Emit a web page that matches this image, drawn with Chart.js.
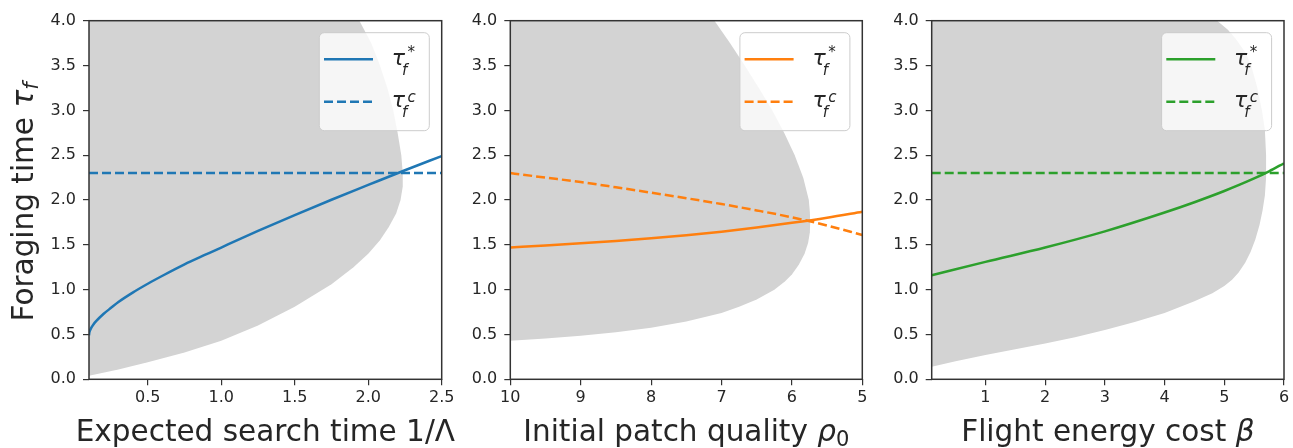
<!DOCTYPE html>
<html>
<head>
<meta charset="utf-8">
<script src="https://cdn.jsdelivr.net/npm/chart.js@4/dist/chart.umd.min.js"></script>
<style>
html,body{margin:0;padding:0;background:#fff;}
#wrap{position:relative;width:1293px;height:448px;overflow:hidden;background:#fff;}
canvas{position:absolute;top:0;}
</style>
</head>
<body>
<div id="wrap">
<canvas id="c1" style="left:0px" width="475" height="448"></canvas>
<canvas id="c2" style="left:450px" width="420" height="448"></canvas>
<canvas id="c3" style="left:870px" width="423" height="448"></canvas>
</div>
<script>
// ---------- shared ticks ----------
const yTickValues = [0, 0.5, 1, 1.5, 2, 2.5, 3, 3.5, 4];
const yTickLabels = ['0.0', '0.5', '1.0', '1.5', '2.0', '2.5', '3.0', '3.5', '4.0'];
const seriesNames = ['τf*', 'τfc'];

// ---------- panel 1: expected search time ----------
const p1TickValues = [0.5, 1.0, 1.5, 2.0, 2.5];
const p1TickLabels = ['0.5', '1.0', '1.5', '2.0', '2.5'];
const p1OptX = [0.1, 0.102, 0.106, 0.115, 0.13, 0.15, 0.2, 0.25, 0.3, 0.4, 0.5, 0.6, 0.75, 0.9, 1.0, 1.25, 1.5, 1.75, 2.0, 2.25, 2.5];
const p1OptY = [0.49, 0.519, 0.541, 0.573, 0.611, 0.651, 0.731, 0.797, 0.862, 0.970, 1.066, 1.155, 1.282, 1.395, 1.47, 1.655, 1.832, 2.003, 2.168, 2.332, 2.49];
const p1CritX = [0.1, 2.5];
const p1CritY = [2.3, 2.3];
const p1RegionX = [0.1, 0.3, 0.5, 0.75, 1.0, 1.25, 1.5, 1.75, 1.9, 2.0, 2.08, 2.14, 2.19, 2.22, 2.235, 2.235, 2.225, 2.20, 2.17, 2.13, 2.08, 2.02, 1.94, 0.1];
const p1RegionY = [0.04, 0.11, 0.19, 0.30, 0.43, 0.60, 0.81, 1.06, 1.25, 1.40, 1.55, 1.70, 1.85, 2.00, 2.15, 2.30, 2.50, 2.75, 3.00, 3.25, 3.50, 3.75, 4.00, 4.00];

// ---------- panel 2: initial patch quality ----------
const p2TickValues = [10, 9, 8, 7, 6, 5];
const p2TickLabels = ['10', '9', '8', '7', '6', '5'];
const p2OptX = [10, 9.5, 9, 8.5, 8, 7.5, 7, 6.5, 6, 5.5, 5];
const p2OptY = [1.47, 1.493, 1.517, 1.543, 1.572, 1.607, 1.647, 1.693, 1.745, 1.803, 1.87];
const p2CritX = [10, 9.5, 9, 8.5, 8, 7.5, 7, 6.5, 6, 5.5, 5];
const p2CritY = [2.30, 2.25, 2.20, 2.142, 2.082, 2.02, 1.955, 1.884, 1.807, 1.715, 1.61];
const p2RegionX = [10, 9.5, 9, 8.5, 8, 7.5, 7, 6.75, 6.5, 6.25, 6.1, 6.0, 5.9, 5.82, 5.77, 5.745, 5.74, 5.745, 5.76, 5.84, 5.96, 6.11, 6.28, 6.47, 6.67, 6.88, 7.1, 10];
const p2RegionY = [0.43, 0.455, 0.485, 0.525, 0.575, 0.645, 0.74, 0.81, 0.89, 1.00, 1.09, 1.17, 1.28, 1.40, 1.52, 1.64, 1.75, 1.87, 2.00, 2.25, 2.50, 2.75, 3.00, 3.25, 3.50, 3.75, 4.00, 4.00];

// ---------- panel 3: flight energy cost ----------
const p3TickValues = [1, 2, 3, 4, 5, 6];
const p3TickLabels = ['1', '2', '3', '4', '5', '6'];
const p3OptX = [0.1, 1, 2, 3, 4, 4.5, 5, 5.5, 5.75, 6];
const p3OptY = [1.16, 1.31, 1.47, 1.65, 1.86, 1.975, 2.10, 2.24, 2.32, 2.41];
const p3CritX = [0.1, 6];
const p3CritY = [2.3, 2.3];
const p3RegionX = [0.1, 0.5, 1, 1.5, 2, 2.5, 3, 3.5, 4, 4.5, 4.8, 5.0, 5.13, 5.24, 5.35, 5.44, 5.52, 5.59, 5.64, 5.68, 5.70, 5.70, 5.68, 5.63, 5.55, 5.45, 5.36, 5.19, 5.06, 4.88, 0.1];
const p3RegionY = [0.14, 0.20, 0.27, 0.335, 0.40, 0.47, 0.55, 0.64, 0.74, 0.87, 0.96, 1.04, 1.11, 1.19, 1.30, 1.42, 1.56, 1.72, 1.88, 2.05, 2.25, 2.50, 2.78, 3.00, 3.26, 3.50, 3.64, 3.80, 3.90, 4.00, 4.00];

// ---------- styling ----------
const FONT = '"DejaVu Sans", sans-serif';
const TEXT = '#262626';
const AXIS = '#333333';
const GREY = '#d3d3d3';
const TITLE = 29.5;

function pts(xs, ys) { return xs.map((x, i) => ({ x: x, y: ys[i] })); }

function setFont(ctx, r) {
  ctx.font = (r.italic ? 'italic ' : '') + r.size + 'px ' + FONT;
}
function runsWidth(ctx, runs) {
  let w = 0;
  for (const r of runs) { setFont(ctx, r); w += ctx.measureText(r.t).width; }
  return w;
}
function drawRuns(ctx, runs, x, y) {
  let cx = x;
  for (const r of runs) {
    setFont(ctx, r);
    ctx.fillText(r.t, cx, y + (r.dy || 0));
    cx += ctx.measureText(r.t).width;
  }
}

const framePlugin = {
  id: 'frameAndText',
  afterDatasetsDraw(chart) {
    const ctx = chart.ctx;
    const a = chart.chartArea;
    const o = chart.options.plugins.frameAndText;
    ctx.save();
    // legend box
    const bw = 110, bh = 98;
    const bx = a.right - 12.4 - bw, by = a.top + 12;
    ctx.beginPath();
    ctx.roundRect(bx, by, bw, bh, 5);
    ctx.fillStyle = 'rgba(255,255,255,0.8)';
    ctx.fill();
    ctx.lineWidth = 1;
    ctx.strokeStyle = '#cccccc';
    ctx.stroke();
    const rows = [by + 26.6, by + 69];
    const sups = ['*', 'c'];
    rows.forEach((ly, i) => {
      ctx.beginPath();
      ctx.setLineDash(i === 1 ? [9, 4] : []);
      ctx.strokeStyle = o.color;
      ctx.lineWidth = 2.5;
      ctx.moveTo(bx + 4.7, ly);
      ctx.lineTo(bx + 53.7, ly);
      ctx.stroke();
      ctx.setLineDash([]);
      ctx.fillStyle = TEXT;
      ctx.textAlign = 'left';
      ctx.textBaseline = 'alphabetic';
      const tx = bx + 72.5;
      ctx.font = 'italic 22px ' + FONT;
      ctx.fillText('τ', tx, ly + 5.7);
      const tw = ctx.measureText('τ').width;
      ctx.font = 'italic 15px ' + FONT;
      ctx.fillText('f', tx + tw - 3, ly + 15.7);
      ctx.font = (i === 1 ? 'italic ' : '') + '15px ' + FONT;
      ctx.fillText(sups[i], tx + tw + 2.5, ly - (i === 1 ? 0 : 2));
    });
    ctx.restore();
  },
  afterDraw(chart) {
    const ctx = chart.ctx;
    const a = chart.chartArea;
    const o = chart.options.plugins.frameAndText;
    ctx.save();
    ctx.strokeStyle = AXIS;
    ctx.lineWidth = 1.5;
    ctx.strokeRect(a.left, a.top, a.right - a.left, a.bottom - a.top);
    ctx.fillStyle = TEXT;
    ctx.textAlign = 'left';
    ctx.textBaseline = 'alphabetic';
    // x title
    const w = runsWidth(ctx, o.xTitle);
    drawRuns(ctx, o.xTitle, (a.left + a.right) / 2 - w / 2, a.bottom + 62);
    // y title
    if (o.yTitle) {
      const wy = runsWidth(ctx, o.yTitle);
      ctx.translate(33, (a.top + a.bottom) / 2 + 2);
      ctx.rotate(-Math.PI / 2);
      drawRuns(ctx, o.yTitle, -wy / 2, 0);
    }
    ctx.restore();
  }
};

function build(id, o) {
  const ctx = document.getElementById(id).getContext('2d');
  return new Chart(ctx, {
    type: 'line',
    data: {
      datasets: [
        { label: seriesNames[0], data: pts(o.optX, o.optY), borderColor: o.color, borderWidth: 2.5,
          pointRadius: 0, fill: false, cubicInterpolationMode: 'monotone', order: 1 },
        { label: seriesNames[1], data: pts(o.critX, o.critY), borderColor: o.color, borderWidth: 2.5,
          borderDash: [9, 4], pointRadius: 0, fill: false, cubicInterpolationMode: 'monotone', order: 2 },
        { label: 'region', data: pts(o.regX, o.regY), borderColor: 'rgba(0,0,0,0)', borderWidth: 0,
          backgroundColor: GREY, fill: 'shape', pointRadius: 0, tension: 0, order: 3 }
      ]
    },
    options: {
      responsive: false,
      animation: false,
      devicePixelRatio: 1,
      layout: { padding: { left: 0, right: o.padR, top: 20.7, bottom: 0 } },
      plugins: {
        legend: { display: false },
        tooltip: { enabled: false },
        frameAndText: { color: o.color, xTitle: o.xTitle, yTitle: o.yTitle }
      },
      scales: {
        x: {
          type: 'linear', min: o.xMin, max: o.xMax, reverse: !!o.reverse,
          border: { display: false },
          grid: { display: true, drawOnChartArea: false, drawTicks: true, tickLength: 6, color: AXIS, lineWidth: 1.2 },
          afterBuildTicks: s => { s.ticks = o.xTicks.map(v => ({ value: v })); },
          afterFit: s => { s.height = 68.7; s.paddingLeft = 0; s.paddingRight = 0; },
          ticks: { autoSkip: false, maxRotation: 0, padding: 3, color: TEXT,
                   font: { family: 'DejaVu Sans', size: 16 },
                   callback: (v, i) => o.xLabels[i] }
        },
        y: {
          type: 'linear', min: 0, max: 4,
          border: { display: false },
          grid: { display: true, drawOnChartArea: false, drawTicks: true, tickLength: 6, color: AXIS, lineWidth: 1.2 },
          afterBuildTicks: s => { s.ticks = yTickValues.map(v => ({ value: v })); },
          afterFit: s => { s.width = o.yW; s.paddingTop = 0; s.paddingBottom = 0; },
          ticks: { autoSkip: false, padding: 7, color: TEXT,
                   font: { family: 'DejaVu Sans', size: 16 },
                   callback: (v, i) => yTickLabels[i] }
        }
      }
    },
    plugins: [framePlugin]
  });
}

build('c1', {
  color: '#1f77b4', optX: p1OptX, optY: p1OptY, critX: p1CritX, critY: p1CritY,
  regX: p1RegionX, regY: p1RegionY, xMin: 0.1, xMax: 2.5, xTicks: p1TickValues, xLabels: p1TickLabels,
  yW: 89, padR: 33.3,
  xTitle: [{ t: 'Expected search time 1/Λ', size: TITLE }],
  yTitle: [{ t: 'Foraging time ', size: TITLE }, { t: 'τ', size: TITLE, italic: true }, { t: 'f', size: 21, italic: true, dy: 5 }]
});
build('c2', {
  color: '#ff7f0e', optX: p2OptX, optY: p2OptY, critX: p2CritX, critY: p2CritY,
  regX: p2RegionX, regY: p2RegionY, xMin: 5, xMax: 10, reverse: true, xTicks: p2TickValues, xLabels: p2TickLabels,
  yW: 60.3, padR: 7.7,
  xTitle: [{ t: 'Initial patch quality ', size: TITLE }, { t: 'ρ', size: TITLE, italic: true }, { t: '0', size: 21, dy: 5 }]
});
build('c3', {
  color: '#2ca02c', optX: p3OptX, optY: p3OptY, critX: p3CritX, critY: p3CritY,
  regX: p3RegionX, regY: p3RegionY, xMin: 0.1, xMax: 6, xTicks: p3TickValues, xLabels: p3TickLabels,
  yW: 61.7, padR: 9,
  xTitle: [{ t: 'Flight energy cost ', size: TITLE }, { t: 'β', size: TITLE, italic: true }]
});
</script>
</body>
</html>
